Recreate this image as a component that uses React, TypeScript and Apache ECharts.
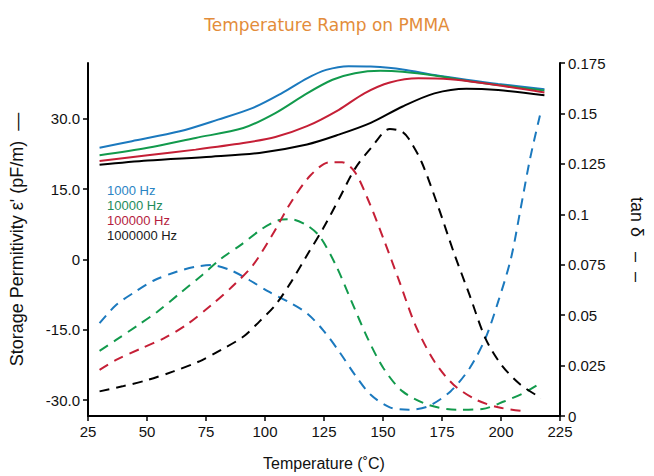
import React, { useEffect, useRef } from "react";
import * as echarts from "echarts";

// Storage permittivity (solid lines), [temperature °C, ε' pF/m]
const eps1000: [number, number][] = [[29.9,23.8],[43.6,25.2],[63.9,27.3],[80.1,29.8],[94.9,32.3],[107,35.4],[117.8,38.6],[125.9,40.4],[135.4,41.2],[144.8,41.1],[158.3,40.5],[171.8,39.3],[185.3,38.3],[198.8,37.4],[218.4,36.3]];
const eps10000: [number, number][] = [[29.9,22.2],[50.3,23.8],[70.6,25.9],[90.8,28.0],[104.4,31.2],[117.8,35.4],[128.6,38.3],[138.1,39.7],[148.9,40.2],[158.3,40.0],[171.8,39.2],[185.3,38.1],[198.8,37.2],[218.4,36.0]];
const eps100000: [number, number][] = [[29.9,21.0],[50.3,22.2],[70.6,23.4],[90.8,24.8],[104.4,26.1],[117.8,28.4],[131.3,31.9],[142.1,35.4],[152.9,37.7],[165,38.6],[178.5,38.4],[192,37.6],[218.4,35.6]];
const eps1000000: [number, number][] = [[29.9,20.2],[50.3,21.1],[77.3,21.9],[97.6,22.7],[117.8,24.5],[131.3,26.6],[144.8,29.1],[158.3,32.6],[171.8,35.4],[185.3,36.4],[198.8,36.1],[218.4,35.0]];

// tan δ (dashed lines), [temperature °C, tan δ]
const tan1000: [number, number][] = [[29.9,0.046],[36.9,0.055],[45,0.0616],[53.1,0.0673],[62.5,0.0715],[70.6,0.074],[77.3,0.0748],[85.4,0.0723],[93.5,0.0673],[101.6,0.0616],[109.7,0.0567],[117.8,0.0509],[124.6,0.0426],[131.4,0.032],[138.1,0.0204],[144.8,0.0105],[152.9,0.0043],[161,0.0031],[169.1,0.0048],[178.6,0.0122],[186.7,0.0237],[193.4,0.0385],[198.8,0.0567],[204.2,0.078],[208.3,0.1027],[212.3,0.1275],[216.5,0.149]];
const tan10000: [number, number][] = [[29.9,0.0323],[36.9,0.0377],[46.3,0.0451],[54.4,0.0517],[63.9,0.0608],[73.3,0.0698],[81.4,0.078],[89.5,0.0846],[98.9,0.0929],[105.7,0.097],[111.1,0.0975],[117.8,0.0945],[123.3,0.0888],[130,0.0748],[136.7,0.0567],[143.5,0.0385],[150.2,0.0237],[158.3,0.0122],[169.1,0.0056],[181.3,0.0031],[192.1,0.0035],[201.5,0.0073],[209.6,0.0114],[216.4,0.016]];
const tan100000: [number, number][] = [[29.9,0.0229],[36.9,0.0278],[47.7,0.0336],[57.1,0.0385],[66.6,0.0451],[77.3,0.055],[86.8,0.0649],[94.9,0.0748],[103,0.0896],[111.1,0.1061],[119.2,0.1192],[127.3,0.1258],[132.7,0.1258],[138.1,0.1209],[143.5,0.1077],[150.2,0.0879],[157,0.0665],[163.7,0.0451],[171.8,0.027],[179.9,0.0155],[189.4,0.0081],[198.8,0.0043],[210.5,0.0023]];
const tan1000000: [number, number][] = [[29.9,0.0122],[39.6,0.0147],[50.4,0.0179],[61.2,0.0221],[72,0.027],[81.4,0.0328],[90.9,0.0394],[97.6,0.0468],[104.4,0.055],[111.1,0.0665],[117.8,0.0797],[124.6,0.0929],[131.4,0.1077],[138.1,0.1225],[145,0.133],[152.9,0.1423],[158,0.141],[161,0.1373],[166.4,0.1258],[173.2,0.1044],[179.9,0.0814],[186.7,0.0599],[193.4,0.0385],[200.2,0.0253],[208.3,0.0155],[217,0.0089]];

const frequencies = ["1000 Hz", "10000 Hz", "100000 Hz", "1000000 Hz"];
const leftTicks = [-30, -15, 0, 15, 30];

const lineColors = ["#1b79be", "#129a4c", "#c51f36", "#000000"];
const legendColors = ["#2a84c4", "#1e8c5c", "#b41c3e", "#1a1a1a"];

export default function App() {
  const ref = useRef<HTMLDivElement>(null);
  useEffect(() => {
    document.body.style.margin = "0";
    const chart = echarts.init(ref.current!, null, { renderer: "svg" });
    const epsSets = [eps1000, eps10000, eps100000, eps1000000];
    const tanSets = [tan1000, tan10000, tan100000, tan1000000];
    const font = "Liberation Sans, Arial, sans-serif";
    const series: any[] = [];
    epsSets.forEach((d, i) => {
      series.push({
        name: frequencies[i] + " ε'",
        type: "line",
        yAxisIndex: 0,
        data: d,
        smooth: 0.3,
        showSymbol: false,
        lineStyle: { color: lineColors[i], width: 2 },
        z: 3,
      });
    });
    tanSets.forEach((d, i) => {
      series.push({
        name: frequencies[i] + " tan δ",
        type: "line",
        yAxisIndex: 1,
        data: d,
        smooth: 0.3,
        showSymbol: false,
        lineStyle: { color: lineColors[i], width: 2, type: [10, 7] },
        z: 2,
      });
    });
    chart.setOption({
      animation: false,
      backgroundColor: "#ffffff",
      title: {
        text: "Temperature Ramp on PMMA",
        left: "center",
        top: 11,
        textStyle: { color: "#e38c3a", fontSize: 17, fontWeight: "normal", fontFamily: "DejaVu Sans, sans-serif" },
      },
      grid: { left: 84, right: 77, top: 63, bottom: 58 },
      xAxis: {
        type: "value",
        min: 25,
        max: 225,
        interval: 25,
        name: "Temperature (˚C)",
        nameLocation: "middle",
        nameGap: 39,
        nameTextStyle: { fontSize: 16, color: "#111", fontFamily: font },
        axisLine: { onZero: false, lineStyle: { color: "#000", width: 2 } },
        axisTick: { length: 5, lineStyle: { color: "#000", width: 1.5 } },
        axisLabel: { fontSize: 15, color: "#111", fontFamily: font, margin: 8 },
        splitLine: { show: false },
      },
      yAxis: [
        {
          type: "value",
          position: "left",
          min: -33.39,
          max: 41.87,
          name: "Storage Permitivity ε' (pF/m)  —",
          nameLocation: "middle",
          nameRotate: 90,
          nameGap: 62,
          nameTextStyle: { fontSize: 18, color: "#111", fontFamily: font },
          axisLine: { show: true, onZero: false, lineStyle: { color: "#000", width: 2 } },
          axisTick: { show: true, length: 5, customValues: leftTicks, lineStyle: { color: "#000", width: 1.5 } },
          axisLabel: {
            customValues: leftTicks,
            fontSize: 15,
            color: "#111",
            fontFamily: font,
            margin: 8,
            formatter: (v: number) => (v === 0 ? "0" : v.toFixed(1)),
          },
          splitLine: { show: false },
        },
        {
          type: "value",
          position: "right",
          min: 0,
          max: 0.175,
          interval: 0.025,
          name: "tan δ   –  –",
          nameLocation: "middle",
          nameRotate: -90,
          nameGap: 68,
          nameTextStyle: { fontSize: 18, color: "#111", fontFamily: font },
          axisLine: { show: true, onZero: false, lineStyle: { color: "#000", width: 2 } },
          axisTick: { show: true, length: 5, lineStyle: { color: "#000", width: 1.5 } },
          axisLabel: {
            fontSize: 15,
            color: "#111",
            fontFamily: font,
            margin: 8,
            formatter: (v: number) => String(+v.toFixed(3)),
          },
          splitLine: { show: false },
        },
      ],
      graphic: frequencies.map((f, i) => ({
        type: "text",
        left: 107,
        top: 184 + i * 15,
        style: { text: f, fill: legendColors[i], fontSize: 13, fontFamily: font },
      })),
      series,
    });
    return () => chart.dispose();
  }, []);
  return <div ref={ref} style={{ width: 654, height: 476 }} />;
}
